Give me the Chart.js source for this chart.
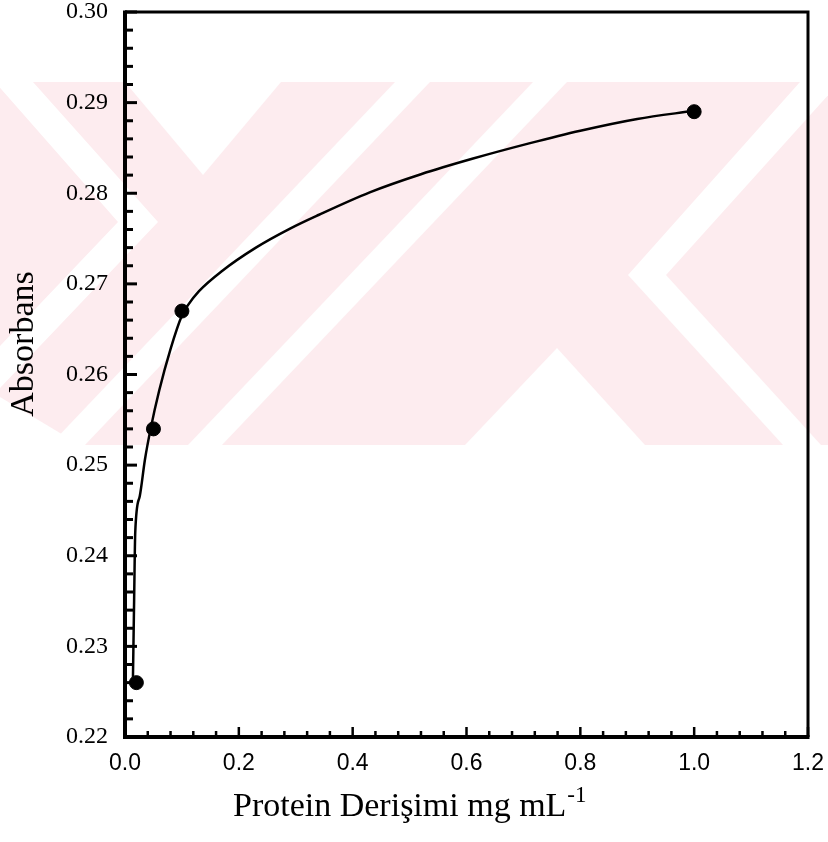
<!DOCTYPE html>
<html>
<head>
<meta charset="utf-8">
<script src="https://cdn.jsdelivr.net/npm/chart.js@4"></script>
<style>
  html, body { margin: 0; padding: 0; background: #fff; }
  #wrap { width: 828px; height: 842px; }
</style>
</head>
<body>
<div id="wrap"><canvas id="chart" width="828" height="842"></canvas></div>
<script>
// measured points
const pointX = [0.02, 0.05, 0.1, 1.0];
const pointY = [0.226, 0.254, 0.267, 0.289];

// fitted curve
const curveX = [0.014, 0.016, 0.018, 0.026, 0.035, 0.045, 0.060, 0.080, 0.100, 0.110, 0.130,
                0.170, 0.230, 0.290, 0.340, 0.430, 0.520, 0.610, 0.710, 0.800, 0.900, 1.000];
const curveY = [0.2266, 0.2350, 0.2426, 0.2466, 0.2506, 0.2540, 0.2582, 0.2628, 0.2665, 0.2676, 0.2692,
                0.2714, 0.2740, 0.2761, 0.2776, 0.2801, 0.2821, 0.2838, 0.2855, 0.2869, 0.2882, 0.2891];

// axes
const xMin = 0, xMax = 1.2, xMinorStep = 0.04;
const yMin = 0.22, yMax = 0.30, yMinorStep = 0.002;
const xTickLabels = ['0.0', '0.2', '0.4', '0.6', '0.8', '1.0', '1.2'];
const yTickLabels = ['0.22', '0.23', '0.24', '0.25', '0.26', '0.27', '0.28', '0.29', '0.30'];

const xTitle = 'Protein Derişimi mg mL';
const xTitleSup = '-1';
const yTitle = 'Absorbans';

// faint thesis watermark behind the plot (pixel shapes, decoration only)
const markPink = '#fdecef';
const markBand = [82, 445];
const markHoles = [
    [[125, 82], [281, 82], [203, 175]],
    [[-5, 82], [33, 82], [158, 222], [0, 388], [0, 346], [118, 222]],
    [[395, 82], [430, 82], [85, 445], [50, 445]],
    [[533, 82], [567, 82], [222, 445], [188, 445]],
    [[557, 348], [645, 445], [465, 445]],
    [[628, 275], [666, 275], [821, 445], [783, 445]],
    [[800, 82], [840, 82], [666, 275], [628, 275]],
    [[0, 397], [80, 445], [0, 445]]
];

const watermark = {
    id: 'watermark',
    beforeDraw(chart) {
        const ctx = chart.ctx;
        ctx.save();
        ctx.fillStyle = '#fff';
        ctx.fillRect(0, 0, chart.width, chart.height);
        ctx.fillStyle = markPink;
        ctx.fillRect(0, markBand[0], chart.width, markBand[1] - markBand[0]);
        ctx.fillStyle = '#fff';
        markHoles.forEach(poly => {
            ctx.beginPath();
            poly.forEach((p, i) => i ? ctx.lineTo(p[0], p[1]) : ctx.moveTo(p[0], p[1]));
            ctx.closePath();
            ctx.fill();
        });
        ctx.restore();
    }
};

function isLabelled(labels, v, digits) {
    return labels.indexOf(v.toFixed(digits)) !== -1 && Math.abs(parseFloat(v.toFixed(digits)) - v) < 1e-9;
}

// frame, inward ticks and axis titles
const frame = {
    id: 'frame',
    afterDraw(chart) {
        const ctx = chart.ctx;
        const a = chart.chartArea;
        const xs = chart.scales.x, ys = chart.scales.y;
        ctx.save();
        ctx.strokeStyle = '#000';
        ctx.lineCap = 'butt';

        ctx.lineWidth = 3;
        ctx.beginPath();
        ctx.moveTo(a.left, a.top); ctx.lineTo(a.right, a.top); ctx.lineTo(a.right, a.bottom);
        ctx.stroke();
        ctx.lineWidth = 4;
        ctx.beginPath();
        ctx.moveTo(a.left, a.top - 1.5); ctx.lineTo(a.left, a.bottom); ctx.lineTo(a.right + 1.5, a.bottom);
        ctx.stroke();

        ctx.lineWidth = 3;
        ys.ticks.forEach(t => {
            const py = ys.getPixelForValue(t.value);
            const len = isLabelled(yTickLabels, t.value, 2) ? 12 : 8;
            ctx.beginPath();
            ctx.moveTo(a.left, py); ctx.lineTo(a.left + len, py);
            ctx.stroke();
        });
        ctx.lineWidth = 2.5;
        xs.ticks.forEach(t => {
            const px = xs.getPixelForValue(t.value);
            const len = isLabelled(xTickLabels, t.value, 1) ? 10 : 6;
            ctx.beginPath();
            ctx.moveTo(px, a.bottom); ctx.lineTo(px, a.bottom - len);
            ctx.stroke();
        });

        ctx.fillStyle = '#000';
        ctx.textBaseline = 'alphabetic';
        ctx.textAlign = 'left';
        ctx.font = '34px "Liberation Serif"';
        const tx = a.left + 108, ty = 816;
        ctx.fillText(xTitle, tx, ty);
        const w = ctx.measureText(xTitle).width;
        ctx.font = '23px "Liberation Serif"';
        ctx.fillText(xTitleSup, tx + w + 1, ty - 14);

        ctx.translate(33, 344);
        ctx.rotate(-Math.PI / 2);
        ctx.textAlign = 'center';
        ctx.font = '34px "Liberation Serif"';
        ctx.fillText(yTitle, 0, 0);
        ctx.restore();
    }
};

const curveData = curveX.map((x, i) => ({ x: x, y: curveY[i] }));
const pointData = pointX.map((x, i) => ({ x: x, y: pointY[i] }));

new Chart(document.getElementById('chart'), {
    type: 'scatter',
    data: {
        datasets: [
            {
                type: 'line',
                data: curveData,
                borderColor: '#000',
                borderWidth: 2.5,
                pointRadius: 0,
                cubicInterpolationMode: 'monotone',
                fill: false
            },
            {
                data: pointData,
                backgroundColor: '#000',
                borderColor: '#000',
                pointRadius: 7,
                pointHoverRadius: 7
            }
        ]
    },
    options: {
        responsive: false,
        animation: false,
        events: [],
        layout: { padding: { left: 0, top: 12, right: 20, bottom: 0 } },
        plugins: { legend: { display: false }, tooltip: { enabled: false } },
        scales: {
            x: {
                type: 'linear',
                min: xMin, max: xMax,
                grid: { display: false },
                border: { display: false },
                ticks: {
                    stepSize: xMinorStep,
                    autoSkip: false,
                    maxRotation: 0,
                    padding: 5,
                    color: '#000',
                    font: { family: 'Liberation Sans, Arial, Helvetica, sans-serif', size: 23 },
                    callback: v => isLabelled(xTickLabels, v, 1) ? v.toFixed(1) : ''
                },
                afterFit: s => { s.height = 105; s.paddingLeft = 0; s.paddingRight = 0; }
            },
            y: {
                type: 'linear',
                min: yMin, max: yMax,
                grid: { display: false },
                border: { display: false },
                ticks: {
                    stepSize: yMinorStep,
                    autoSkip: false,
                    padding: 9,
                    color: '#000',
                    font: { family: '"Liberation Serif", "Times New Roman", serif', size: 24 },
                    callback: v => isLabelled(yTickLabels, v, 2) ? v.toFixed(2) : ''
                },
                afterFit: s => { s.width = 125; s.paddingTop = 0; s.paddingBottom = 0; }
            }
        }
    },
    plugins: [watermark, frame]
});
</script>
</body>
</html>
